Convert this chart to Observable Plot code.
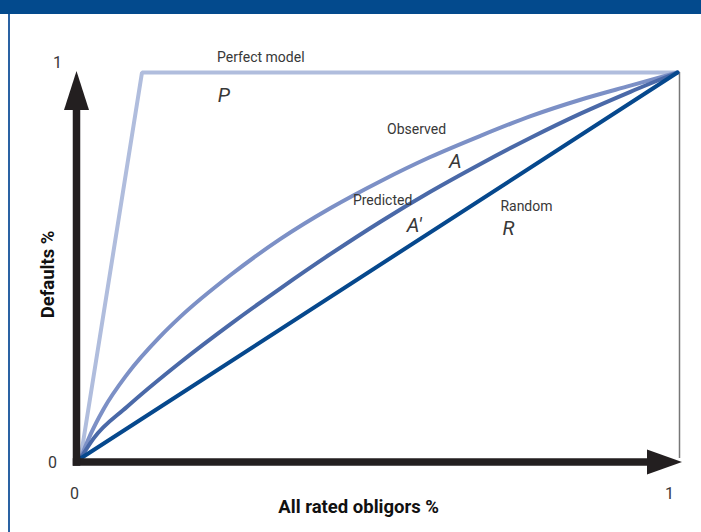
<!DOCTYPE html>
<html>
<head>
<meta charset="utf-8">
<script src="https://cdn.jsdelivr.net/npm/d3@7"></script>
<script src="https://cdn.jsdelivr.net/npm/@observablehq/plot@0.6"></script>
<style>
  html, body { margin: 0; padding: 0; background: #fff; }
  #wrap { position: relative; width: 701px; height: 532px; overflow: hidden; background: #fff; }
  #banner { position: absolute; left: 0; top: 0; width: 701px; height: 14px; background: #034a8d; z-index: 2; }
  #leftline { position: absolute; left: 8px; top: 14px; width: 1.5px; height: 518px; background: #2a62a3; z-index: 2; }
  #chart { position: absolute; left: 0; top: 14px; z-index: 1; }
</style>
</head>
<body>
<div id="wrap">
  <div id="banner"></div>
  <div id="leftline"></div>
  <div id="chart"></div>
</div>
<script>
// ---- data ----
const perfectX = [0, 0.103, 1];
const perfectY = [0, 1, 1];
const observedX = [0, 0.017, 0.039, 0.078, 0.134, 0.1675, 0.2513, 0.335, 0.419, 0.5025, 0.586, 0.670, 0.754, 0.8375, 0.921, 1];
const observedY = [0, 0.063, 0.129, 0.218, 0.317, 0.3675, 0.4753, 0.569, 0.649, 0.7185, 0.781, 0.836, 0.887, 0.9295, 0.966, 1];
const predictedX = [0, 0.022, 0.078, 0.1675, 0.2513, 0.335, 0.419, 0.5025, 0.586, 0.670, 0.754, 0.8375, 0.921, 1];
const predictedY = [0, 0.052, 0.134, 0.2495, 0.3483, 0.441, 0.530, 0.6135, 0.691, 0.763, 0.831, 0.8935, 0.950, 1];
const randomX = [0, 1];
const randomY = [0, 1];

const seriesNames = ["Perfect model", "Observed", "Predicted", "Random"];
const seriesLabelX = [0.302, 0.563, 0.506, 0.747];
const seriesLabelY = [1.039, 0.852, 0.668, 0.653];
const areaNames = ["P", "A", "A\u2032", "R"];
const areaLabelX = [0.240, 0.628, 0.559, 0.717];
const areaLabelY = [0.940, 0.769, 0.604, 0.596];

const xTicks = [0, 1];
const yTicks = [0, 1];
const xTitle = "All rated obligors %";
const yTitle = "Defaults %";

// ---- tables ----
const toPts = (xs, ys) => xs.map((x, i) => ({x, y: ys[i]}));
const perfect = toPts(perfectX, perfectY);
const observed = toPts(observedX, observedY);
const predicted = toPts(predictedX, predictedY);
const random = toPts(randomX, randomY);
const seriesLabels = seriesNames.map((t, i) => ({t, x: seriesLabelX[i], y: seriesLabelY[i]}));
const areaLabels = areaNames.map((t, i) => ({t, x: areaLabelX[i], y: areaLabelY[i]}));

const FONT = "Roboto, 'Liberation Sans', sans-serif";
const TEXT = "#383838";
const AXIS = "#231f20";

function axesMark(index, scales) {
  const x = scales.x, y = scales.y;
  const x0 = x(0), y0 = y(0), x1 = x(1), y1 = y(1);
  const ax = y0 + 4;      // x-axis line centre
  const ay = x0 - 3.5;    // y-axis line centre
  const g = d3.create("svg:g");
  g.append("line").attr("x1", ay - 3.75).attr("x2", x1 - 30).attr("y1", ax).attr("y2", ax)
    .attr("stroke", AXIS).attr("stroke-width", 7.5);
  g.append("line").attr("x1", ay).attr("x2", ay).attr("y1", ax + 3.75).attr("y2", y1 + 34)
    .attr("stroke", AXIS).attr("stroke-width", 7.5);
  g.append("path").attr("d", `M${x1 + 5},${ax}L${x1 - 30},${ax - 12.5}L${x1 - 30},${ax + 12.5}Z`).attr("fill", AXIS);
  g.append("path").attr("d", `M${ay},${y1 - 1}L${ay - 12.5},${y1 + 38}L${ay + 12.5},${y1 + 38}Z`).attr("fill", AXIS);
  return g.node();
}

const xTickDx = [-6, -8];
const yTickDx = [-28, -23];
const yTickDy = [4, -10];

const chart = Plot.plot({
  width: 701,
  height: 518,
  marginLeft: 80,
  marginRight: 24,
  marginTop: 58,
  marginBottom: 74,
  x: {domain: [0, 1], axis: null},
  y: {domain: [0, 1], axis: null},
  style: {fontFamily: FONT, background: "transparent", overflow: "visible"},
  marks: [
    Plot.ruleX([1], {y1: 0, y2: 1, dx: 2, stroke: "#777777", strokeWidth: 1.5}),
    Plot.line(perfect, {x: "x", y: "y", stroke: "#b0bddd", strokeWidth: 4, strokeLinejoin: "miter", strokeLinecap: "round"}),
    Plot.line(observed, {x: "x", y: "y", curve: "monotone-x", stroke: "#7c90c6", strokeWidth: 4, strokeLinecap: "round"}),
    Plot.line(predicted, {x: "x", y: "y", curve: "monotone-x", stroke: "#4a69a8", strokeWidth: 4, strokeLinecap: "round"}),
    Plot.line(random, {x: "x", y: "y", stroke: "#06488d", strokeWidth: 4, strokeLinecap: "round"}),
    axesMark,
    Plot.text(seriesLabels, {x: "x", y: "y", text: "t", fill: TEXT, fontSize: 14, textAnchor: "middle"}),
    Plot.text(areaLabels, {x: "x", y: "y", text: "t", fill: TEXT, fontSize: 20, fontStyle: "italic", fontWeight: 400, textAnchor: "middle"}),
    ...xTicks.map((t, i) => Plot.text([t], {x: d => d, y: 0, text: d => String(d), dx: xTickDx[i], dy: 35, fill: TEXT, fontSize: 16})),
    ...yTicks.map((t, i) => Plot.text([t], {x: 0, y: d => d, text: d => String(d), dx: yTickDx[i], dy: yTickDy[i], fill: TEXT, fontSize: 16})),
    Plot.text([xTitle], {x: 0.466, y: -0.127, text: d => d, fill: "#111", fontSize: 18.5, fontWeight: "bold"}),
    Plot.text([yTitle], {x: -0.0536, y: 0.477, text: d => d, rotate: -90, fill: "#111", fontSize: 18.5, fontWeight: "bold"})
  ]
});
document.getElementById("chart").appendChild(chart);
</script>
</body>
</html>
